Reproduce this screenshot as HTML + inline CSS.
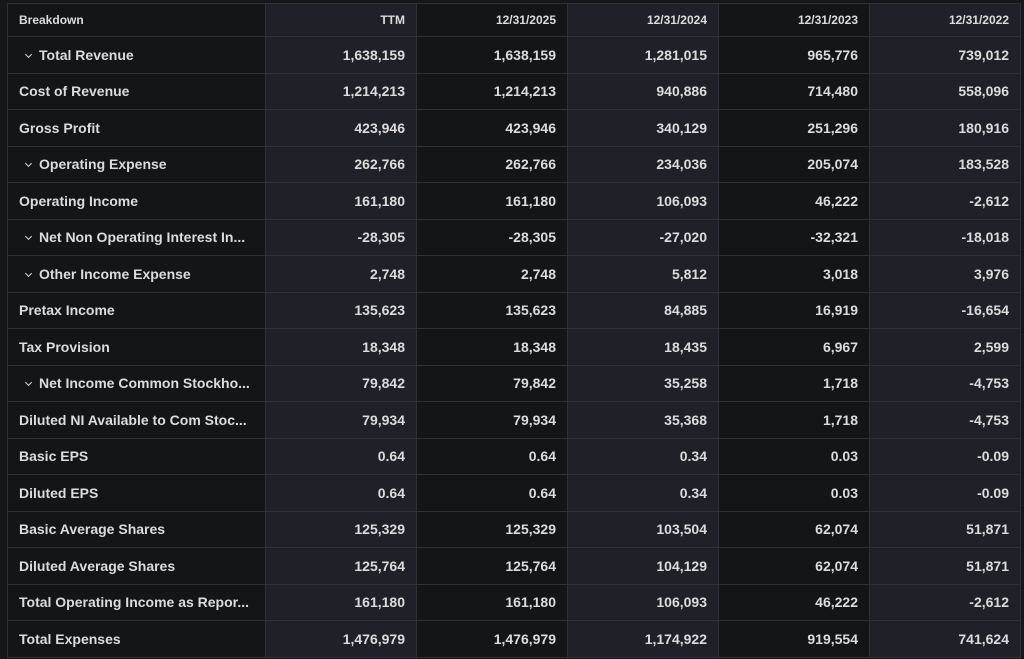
<!DOCTYPE html>
<html><head><style>
html,body{margin:0;padding:0;background:#15171b;width:1024px;height:659px;overflow:hidden}
table{position:absolute;left:7px;top:3px;border-collapse:collapse;table-layout:fixed;font-family:"Liberation Sans",sans-serif;font-weight:bold;color:#dcdcdc;font-size:14px}
td,th{border:1px solid #2d3238;height:35.5px;padding:0 11px;white-space:nowrap;overflow:hidden;text-align:right}
th{font-size:12px;height:32px}
td:first-child,th:first-child{text-align:left}
tr>*:nth-child(odd){background:#131519}
tr>*:nth-child(even){background:#1e2127}
.c{display:inline-block;width:4px;height:4px;border-right:1.5px solid #dcdcdc;border-bottom:1.5px solid #dcdcdc;transform:rotate(45deg);margin:0 8px 4px 7px;vertical-align:middle}
</style></head><body>
<table>
<colgroup><col style="width:258px"><col style="width:151px"><col style="width:151px"><col style="width:151px"><col style="width:151px"><col style="width:151px"></colgroup>
<tr><th>Breakdown</th><th>TTM</th><th>12/31/2025</th><th>12/31/2024</th><th>12/31/2023</th><th>12/31/2022</th></tr>
<tr><td><span class="c"></span>Total Revenue</td><td>1,638,159</td><td>1,638,159</td><td>1,281,015</td><td>965,776</td><td>739,012</td></tr>
<tr><td>Cost of Revenue</td><td>1,214,213</td><td>1,214,213</td><td>940,886</td><td>714,480</td><td>558,096</td></tr>
<tr><td>Gross Profit</td><td>423,946</td><td>423,946</td><td>340,129</td><td>251,296</td><td>180,916</td></tr>
<tr><td><span class="c"></span>Operating Expense</td><td>262,766</td><td>262,766</td><td>234,036</td><td>205,074</td><td>183,528</td></tr>
<tr><td>Operating Income</td><td>161,180</td><td>161,180</td><td>106,093</td><td>46,222</td><td>-2,612</td></tr>
<tr><td><span class="c"></span>Net Non Operating Interest In...</td><td>-28,305</td><td>-28,305</td><td>-27,020</td><td>-32,321</td><td>-18,018</td></tr>
<tr><td><span class="c"></span>Other Income Expense</td><td>2,748</td><td>2,748</td><td>5,812</td><td>3,018</td><td>3,976</td></tr>
<tr><td>Pretax Income</td><td>135,623</td><td>135,623</td><td>84,885</td><td>16,919</td><td>-16,654</td></tr>
<tr><td>Tax Provision</td><td>18,348</td><td>18,348</td><td>18,435</td><td>6,967</td><td>2,599</td></tr>
<tr><td><span class="c"></span>Net Income Common Stockho...</td><td>79,842</td><td>79,842</td><td>35,258</td><td>1,718</td><td>-4,753</td></tr>
<tr><td>Diluted NI Available to Com Stoc...</td><td>79,934</td><td>79,934</td><td>35,368</td><td>1,718</td><td>-4,753</td></tr>
<tr><td>Basic EPS</td><td>0.64</td><td>0.64</td><td>0.34</td><td>0.03</td><td>-0.09</td></tr>
<tr><td>Diluted EPS</td><td>0.64</td><td>0.64</td><td>0.34</td><td>0.03</td><td>-0.09</td></tr>
<tr><td>Basic Average Shares</td><td>125,329</td><td>125,329</td><td>103,504</td><td>62,074</td><td>51,871</td></tr>
<tr><td>Diluted Average Shares</td><td>125,764</td><td>125,764</td><td>104,129</td><td>62,074</td><td>51,871</td></tr>
<tr><td>Total Operating Income as Repor...</td><td>161,180</td><td>161,180</td><td>106,093</td><td>46,222</td><td>-2,612</td></tr>
<tr><td>Total Expenses</td><td>1,476,979</td><td>1,476,979</td><td>1,174,922</td><td>919,554</td><td>741,624</td></tr>
</table>
</body></html>
